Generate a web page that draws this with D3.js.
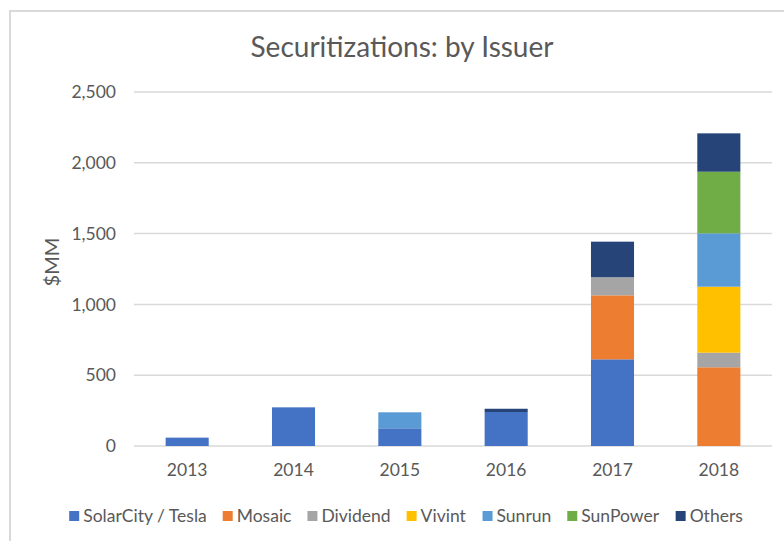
<!DOCTYPE html>
<html>
<head>
<meta charset="utf-8">
<script src="https://cdn.jsdelivr.net/npm/d3@7"></script>
<style>
  body { margin: 0; background: #fff; }
  text { font-family: Lato, "Open Sans", sans-serif; fill: #595959; }
</style>
</head>
<body>
<div id="chart"></div>
<script>
const years = ["2013", "2014", "2015", "2016", "2017", "2018"];
const issuers = ["SolarCity / Tesla", "Mosaic", "Dividend", "Vivint", "Sunrun", "SunPower", "Others"];
const colors = ["#4472C4", "#ED7D31", "#A5A5A5", "#FFC000", "#5B9BD5", "#70AD47", "#264478"];

// $MM per issuer, one value per year
const solarCity = [59, 273, 125, 240, 612, 0];
const mosaic    = [0, 0, 0, 0, 452, 556];
const dividend  = [0, 0, 0, 0, 128, 103];
const vivint    = [0, 0, 0, 0, 0, 466];
const sunrun    = [0, 0, 113, 0, 0, 377];
const sunpower  = [0, 0, 0, 0, 0, 435];
const others    = [0, 0, 0, 23, 251, 271];

const yTicks = [0, 500, 1000, 1500, 2000, 2500];

const series = [solarCity, mosaic, dividend, vivint, sunrun, sunpower, others];
const rows = years.map((y, i) => {
  const r = { year: y };
  issuers.forEach((k, j) => r[k] = series[j][i]);
  return r;
});

const W = 784, H = 541;
const margin = { top: 92, right: 12, bottom: 95, left: 134 };
const width = W - margin.left - margin.right;
const height = H - margin.top - margin.bottom;

const svg = d3.select("#chart").append("svg")
  .attr("width", W).attr("height", H);

// chart frame
svg.append("rect")
  .attr("x", 10).attr("y", 11)
  .attr("width", 800).attr("height", 560)
  .attr("fill", "none").attr("stroke", "#d9d9d9").attr("stroke-width", 2);

svg.append("text")
  .attr("x", 402).attr("y", 57)
  .attr("text-anchor", "middle")
  .style("font-size", "28px")
  .text("Securitizations: by Issuer");

const g = svg.append("g").attr("transform", `translate(${margin.left},${margin.top})`);

const x = d3.scaleBand().domain(years).range([0, width])
  .paddingInner(0.595).paddingOuter(0.2975);
const y = d3.scaleLinear().domain([0, 2500]).range([height, 0]);

// gridlines
g.append("g")
  .selectAll("line")
  .data(yTicks)
  .join("line")
  .attr("x1", 0).attr("x2", width)
  .attr("y1", d => y(d)).attr("y2", d => y(d))
  .attr("stroke", "#d9d9d9").attr("stroke-width", 1.5);

const yAxis = g.append("g")
  .call(d3.axisLeft(y).tickValues(yTicks).tickFormat(d3.format(",")).tickSize(0).tickPadding(18));
yAxis.select(".domain").remove();
yAxis.selectAll("text").style("font-size", "17.5px").attr("fill", "#595959");

const xAxis = g.append("g")
  .attr("transform", `translate(0,${height})`)
  .call(d3.axisBottom(x).tickSize(0).tickPadding(18));
xAxis.select(".domain").remove();
xAxis.selectAll("text").style("font-size", "17.5px").attr("fill", "#595959");

const stack = d3.stack().keys(issuers)(rows);
g.append("g")
  .selectAll("g")
  .data(stack)
  .join("g")
  .attr("fill", (d, i) => colors[i])
  .selectAll("rect")
  .data(d => d.filter(p => p[1] - p[0] > 0))
  .join("rect")
  .attr("x", d => x(d.data.year))
  .attr("y", d => y(d[1]))
  .attr("width", x.bandwidth())
  .attr("height", d => y(d[0]) - y(d[1]));

// y title
svg.append("text")
  .attr("transform", `translate(59,${margin.top + height / 2 - 7}) rotate(-90)`)
  .attr("text-anchor", "middle")
  .style("font-size", "20px")
  .text("$MM");

// legend
const legend = svg.append("g").attr("transform", "translate(0,516)");
const items = legend.selectAll("g").data(issuers).join("g");
items.append("rect")
  .attr("y", -5).attr("width", 10).attr("height", 10)
  .attr("fill", (d, i) => colors[i]);
items.append("text")
  .attr("x", 14).attr("dy", "0.35em")
  .style("font-size", "17.5px")
  .text(d => d);
let cx = 0;
const offs = [];
items.each(function () {
  offs.push(cx);
  cx += this.getBBox().width + 16;
});
const total = cx - 16;
const start = 406 - total / 2;
items.attr("transform", (d, i) => `translate(${start + offs[i]},0)`);
</script>
</body>
</html>
